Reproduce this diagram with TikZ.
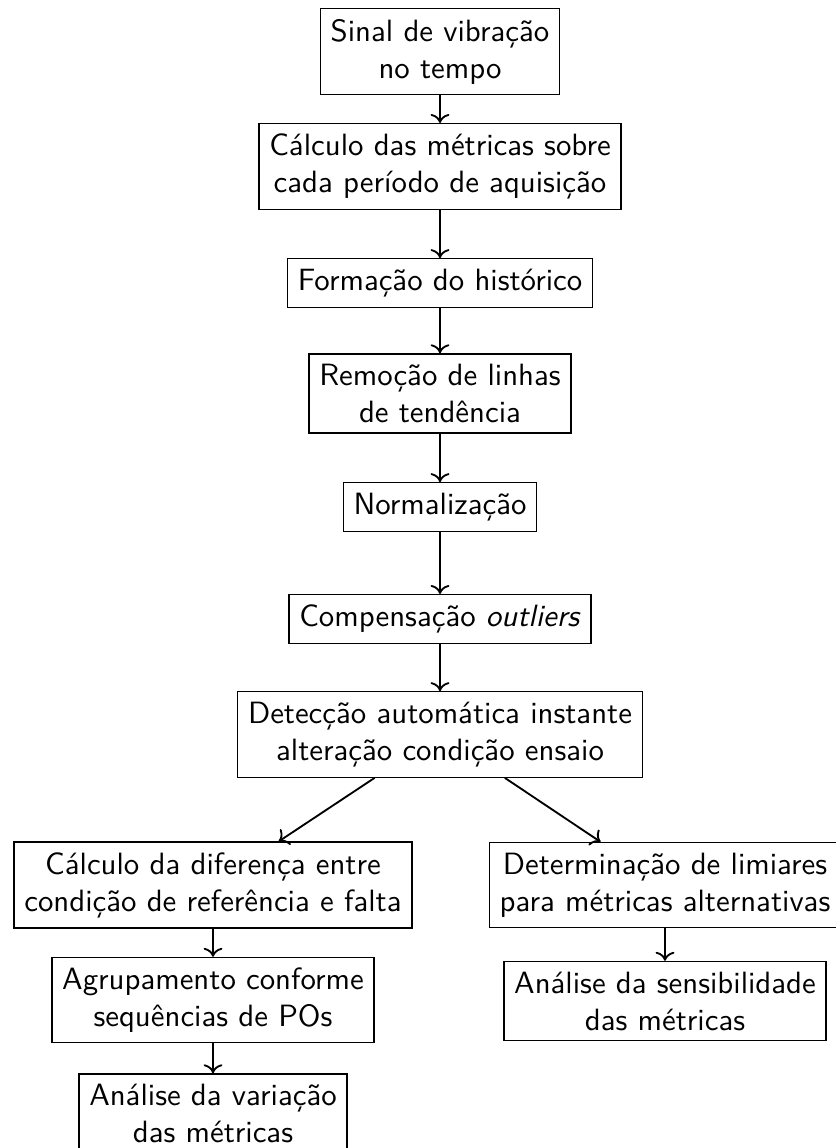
\documentclass[tikz,border=0pt]{standalone}
\usetikzlibrary{arrows.meta}
\begin{document}
\begin{tikzpicture}[x=0.3247pt,y=-0.3247pt,
  box/.style={draw,rectangle,align=center,font=\sffamily},
  conn/.style={->,semithick}]
\useasboundingbox (0,0) rectangle (835,1148);
\node[box] (sinal) at (440,51.5) {Sinal de vibração\\no tempo};
\node[box] (calc) at (440,166.5) {Cálculo das métricas sobre\\cada período de aquisição};
\node[box] (form) at (440,283) {Formação do histórico};
\node[box] (remo) at (440,393.5) {Remoção de linhas\\de tendência};
\node[box] (norm) at (440,507) {Normalização};
\node[box] (comp) at (440,619) {Compensação \textit{outliers}};
\node[box] (dete) at (440,734.5) {Detecção automática instante\\alteração condição ensaio};
\node[box] (dife) at (213,885) {Cálculo da diferença entre\\condição de referência e falta};
\node[box] (agru) at (213,1000) {Agrupamento conforme\\sequências de POs};
\node[box] (vari) at (213,1113.5) {Análise da variação\\das métricas};
\node[box] (limi) at (665,885) {Determinação de limiares\\para métricas alternativas};
\node[box] (sens) at (665,1001) {Análise da sensibilidade\\das métricas};
\draw[conn] (sinal) -- (calc);
\draw[conn] (calc) -- (form);
\draw[conn] (form) -- (remo);
\draw[conn] (remo) -- (norm);
\draw[conn] (norm) -- (comp);
\draw[conn] (comp) -- (dete);
\draw[conn] (dete) -- (dife);
\draw[conn] (dete) -- (limi);
\draw[conn] (dife) -- (agru);
\draw[conn] (agru) -- (vari);
\draw[conn] (limi) -- (sens);
\end{tikzpicture}
\end{document}
